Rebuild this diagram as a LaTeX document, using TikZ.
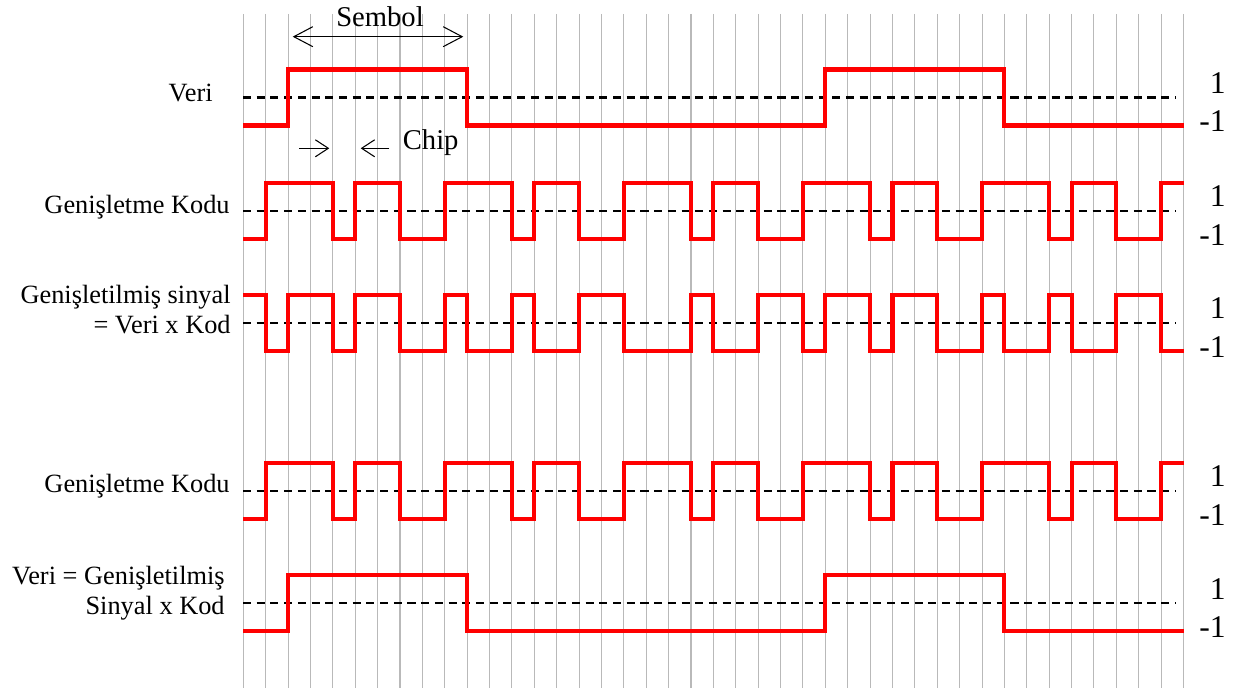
\documentclass[tikz,border=0pt]{standalone}
\usepackage{fontspec}
\setmainfont{Liberation Serif}
\usetikzlibrary{arrows.meta}

\begin{document}
\begin{tikzpicture}[
  x=0.02cm, y=-0.02cm,
  grid/.style={gray!55, line width=0.6pt},
  sig/.style={red, line width=2.3pt, line join=miter},
  zero/.style={black, line width=1.3pt, dash pattern=on 4.6pt off 3.2pt},
  lbl/.style={font=\fontsize{15}{17.6}\selectfont, inner sep=0pt, align=right, anchor=base east},
  lvl/.style={font=\fontsize{18}{20}\selectfont, inner sep=0pt, anchor=base east},
  note/.style={font=\fontsize{16.3}{19}\selectfont, inner sep=0pt},
  symarr/.style={black, line width=0.6pt,
    {Straight Barb[length=0.38cm,width=0.4cm]}-{Straight Barb[length=0.38cm,width=0.4cm]}},
  chiparr/.style={black, line width=0.6pt, -{Straight Barb[length=0.26cm,width=0.34cm]}}
]

\useasboundingbox (0,0) rectangle (1247,688);

% chip grid
\begin{scope}[shift={(243.3,0)}, x=0.4478cm]
\foreach \i in {0,...,42}
  \draw[grid] (\i,14) -- (\i,688);
\end{scope}

% zero lines
\foreach \ym in {97.5,210.7,322.7,491,603.3}
  \draw[zero] (243,\ym) -- (1176,\ym);

% Veri
\begin{scope}[shift={(243.3,97.5)}, x=0.4478cm]
\draw[sig] (0,28) -| (2,-28) -| (10,28) -| (26,-28) -| (34,28) -- (42,28);
\end{scope}

% Genisletme kodu
\begin{scope}[shift={(243.3,210.7)}, x=0.4478cm]
\draw[sig] (0,28) -| (1,-28) -| (4,28) -| (5,-28) -| (7,28) -| (9,-28)
  -| (12,28) -| (13,-28) -| (15,28) -| (17,-28) -| (20,28) -| (21,-28)
  -| (23,28) -| (25,-28) -| (28,28) -| (29,-28) -| (31,28) -| (33,-28)
  -| (36,28) -| (37,-28) -| (39,28) -| (41,-28) -- (42,-28);
\end{scope}

% Veri x Kod
\begin{scope}[shift={(243.3,322.7)}, x=0.4478cm]
\draw[sig] (0,-28) -| (1,28) -| (2,-28) -| (4,28) -| (5,-28) -| (7,28)
  -| (9,-28) -| (10,28) -| (12,-28) -| (13,28) -| (15,-28) -| (17,28)
  -| (20,-28) -| (21,28) -| (23,-28) -| (25,28) -| (26,-28) -| (28,28)
  -| (29,-28) -| (31,28) -| (33,-28) -| (34,28) -| (36,-28) -| (37,28)
  -| (39,-28) -| (41,28) -- (42,28);
\end{scope}

% Genisletme kodu (alici)
\begin{scope}[shift={(243.3,491)}, x=0.4478cm]
\draw[sig] (0,28) -| (1,-28) -| (4,28) -| (5,-28) -| (7,28) -| (9,-28)
  -| (12,28) -| (13,-28) -| (15,28) -| (17,-28) -| (20,28) -| (21,-28)
  -| (23,28) -| (25,-28) -| (28,28) -| (29,-28) -| (31,28) -| (33,-28)
  -| (36,28) -| (37,-28) -| (39,28) -| (41,-28) -- (42,-28);
\end{scope}

% geri kazanilan veri
\begin{scope}[shift={(243.3,603.3)}, x=0.4478cm]
\draw[sig] (0,28) -| (2,-28) -| (10,28) -| (26,-28) -| (34,28) -- (42,28);
\end{scope}

% labels
\node[lbl] (veri) at (213,101.5) {Veri};
\node[lbl] (kod1) at (230,214) {Genişletme Kodu};
\node[lbl] (sinyal) at (231,334) {Genişletilmiş sinyal\\= Veri x Kod};
\node[lbl] (kod2) at (230,493) {Genişletme Kodu};
\node[lbl] (geri) at (225,615) {Veri = Genişletilmiş\\Sinyal x Kod};

\foreach \ym [count=\k] in {97.5,210.7,322.7,491,603.3} {
  \node[lvl] (one\k) at (1226,\ym-4) {1};
  \node[lvl] (minus\k) at (1226,\ym+34.5) {-1};
}

% sembol / chip
\node[note, anchor=base] (sembol) at (380,27) {Sembol};
\coordinate (symL) at (292.7,36.7);
\coordinate (symR) at (463.3,36.7);
\draw[symarr] (symL) -- (symR);

\node[note, anchor=base west] (chip) at (402.5,150) {Chip};
\coordinate (chA) at (299.3,148.3);
\coordinate (chB) at (329.3,148.3);
\coordinate (chC) at (389.3,148.3);
\coordinate (chD) at (360.7,148.3);
\draw[chiparr] (chA) -- (chB);
\draw[chiparr] (chC) -- (chD);

\end{tikzpicture}
\end{document}
